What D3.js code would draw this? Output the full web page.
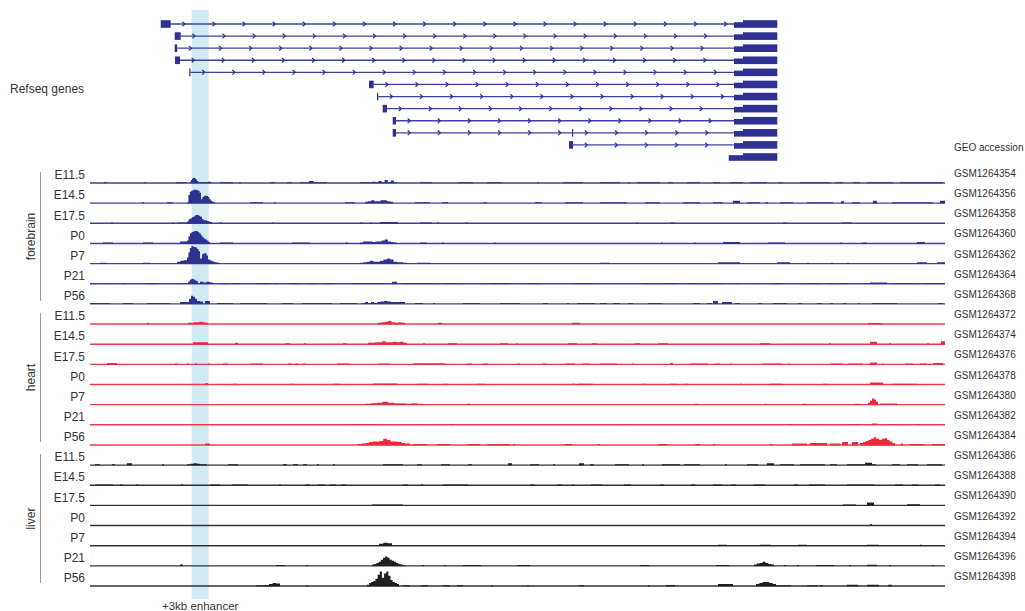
<!DOCTYPE html>
<html>
<head>
<meta charset="utf-8">
<script src="https://cdn.jsdelivr.net/npm/d3@7"></script>
<style>
  body { margin: 0; background: #fff; }
  text { font-family: Arial, "Liberation Sans", Helvetica, sans-serif; fill: #333; }
</style>
</head>
<body>
<div id="chart"></div>
<script>
// Genomic window in kb (0 = left end of the browser view)
var regionKb = [0, 85.5];
var enhancerKb = [10.17, 11.87];

var stages = ["E11.5", "E14.5", "E17.5", "P0", "P7", "P21", "P56"];
var tissues = ["forebrain", "heart", "liver"];
var tissueColors = ["#2e3192", "#ec2a3c", "#231f20"];
var baselineColors = ["#3d41a0", "#ee3a4a", "#333333"];
var accessions = [
  "GSM1264354", "GSM1264356", "GSM1264358", "GSM1264360", "GSM1264362", "GSM1264364", "GSM1264368",
  "GSM1264372", "GSM1264374", "GSM1264376", "GSM1264378", "GSM1264380", "GSM1264382", "GSM1264384",
  "GSM1264386", "GSM1264388", "GSM1264390", "GSM1264392", "GSM1264394", "GSM1264396", "GSM1264398"
];

// Refseq transcripts: exons as [startKb, endKb, type]
var transcripts = [
  [[7.07, 8.07, "cds"], [64.4, 65.3, "utr"], [65.3, 68.73, "cds"]],
  [[8.47, 9.07, "cds"], [64.4, 65.3, "utr"], [65.3, 68.73, "cds"]],
  [[8.47, 8.72, "cds"], [64.4, 65.3, "utr"], [65.3, 68.73, "cds"]],
  [[8.5, 9.0, "cds"], [64.4, 65.3, "utr"], [65.3, 68.73, "cds"]],
  [[9.93, 10.05, "cds"], [64.4, 65.3, "utr"], [65.3, 68.73, "cds"]],
  [[27.9, 28.37, "cds"], [64.4, 65.3, "utr"], [65.3, 68.73, "cds"]],
  [[28.7, 28.82, "cds"], [64.4, 65.3, "utr"], [65.3, 68.73, "cds"]],
  [[29.27, 29.7, "cds"], [64.4, 65.3, "utr"], [65.3, 68.73, "cds"]],
  [[30.27, 30.6, "cds"], [64.4, 65.3, "utr"], [65.3, 68.73, "cds"]],
  [[30.27, 30.6, "cds"], [48.2, 48.32, "cds"], [64.4, 65.3, "utr"], [65.3, 68.73, "cds"]],
  [[47.9, 48.3, "cds"], [64.4, 65.3, "utr"], [65.3, 68.73, "cds"]],
  [[63.87, 65.3, "utr"], [65.3, 68.73, "cds"]]
];

// Signal tracks, bedGraph style: [startKb, endKb, value or list of equal-width bin values]
var forebrainSignal = [
  [[1.4,1.7,1],[5.4,5.6,1],[8.6,9.7,1],[10.0,11.0,[1.5,3,4.5,5,5,4.5,3.5,2,1.5,1]],[11.0,11.8,1],[11.8,12.1,1.5],[13,14.3,1],[14.9,15.1,1],[18,18.5,1],[19.7,20.2,1],[21,23.7,[1,1,2,1,1,1]],[27,30.7,[1,1,1,1,1.5,1,2,1,3,1,2.5,1]],[33,34.2,1],[36.8,38.3,1],[39.7,41.2,1],[44.7,44.9,1],[47.3,49.3,1],[51,53,1],[53.8,54,1],[54.7,57,1],[57.8,58.3,1],[59.7,61,1],[62.3,63,1],[64,65.3,1],[66,67.7,1],[68.8,69.3,1],[71,74,1],[74.5,75.3,1],[76.3,77,1],[77.7,80.3,1],[81,85.3,1]],
  [[5.2,5.4,1],[7.7,8.3,1],[9.7,12.5,[1,8,11,12,12.5,13,13,12.5,12,10,4,6,7,7.5,7,6,4,2.5,1.5,1]],[16,17.3,1],[18.4,18.6,1],[25.5,26.5,1],[27.5,30.3,[1.5,2,3,2,2,3,3,2,1.5]],[32.5,34,1],[35.2,35.8,1],[39.3,39.7,1],[44.5,45.2,1],[47.5,49.3,1],[51,53.7,1],[55.5,57,1],[59.3,61,1],[62.3,63.3,1],[64.3,65,2.5],[65.7,67,1],[67.5,67.8,1],[69,70.3,1],[71.7,74.3,1],[75.1,75.4,2],[76.2,77,1],[78.3,78.7,2.5],[80.2,84.3,1],[85,85.5,2.5]],
  [[2.1,2.3,1],[8.2,8.4,1],[8.8,9.7,1],[9.7,12.2,[2,4,5,6,7,8,8,7.5,6.5,4,3,3,2.5,2,1.5]],[12.9,13.2,1],[18.2,18.4,1],[27,27.3,1],[28,28.2,1],[29,30.8,1.5],[33,34.2,1],[34.7,34.9,1],[37.5,37.8,1],[54.6,54.8,1],[58,58.5,1],[69.3,69.7,1],[75.2,76.2,1]],
  [[1.3,2.3,1],[5.3,6.3,1],[9.0,9.7,2],[9.7,12.0,[3,7,10,11,11.5,12,12,11,10,8,6,5,4,3,1.5]],[13,14.3,1],[20.2,22,1],[25.5,25.8,1],[27,30.7,[1,2,2,2,1.5,2,2,3,4,2,1.5,1]],[33,33.7,1],[35.2,35.4,1],[40.4,40.6,1],[57.1,57.3,1],[60.4,60.6,1],[63.3,65,1.5],[67.8,69.5,1],[75,75.2,1],[77.2,77.7,1],[82.7,83.5,1.5]],
  [[1,1.7,1],[5.3,6,1],[8.7,9.7,[2,3,3.5]],[9.7,11.0,[6,11,15,17,16.5,16,15.5,14,12]],[11.0,11.2,5],[11.2,11.8,[9,10,10,8]],[11.8,13.0,[4,3,2,1.5,1]],[27,31.7,[1,1.5,2,3,2,2,3,4,5,4,2,1.5,1.5,1]],[32.7,34,1],[51,52,1],[62.8,65,1.5],[68.7,70,1.5],[71.7,71.9,1],[74.1,74.3,1],[75.7,75.9,1],[82.7,83.7,1.5],[84.7,85.5,1.5]],
  [[1.6,1.8,1],[3.3,3.6,1],[5.7,6.7,1],[9.0,9.2,1],[9.8,10.8,[2,4,5,4.5,3.5,2.5]],[11,12.3,[2,1.5,2,1.5]],[13,13.7,1],[14.3,15,1],[16.7,18,1],[18.5,18.8,1],[20,21,1],[21.8,22.5,1],[23.5,24.3,1],[26.2,29.3,1],[30.2,30.7,2],[31.3,33.3,1],[33.5,34.2,1],[35.3,36.7,1],[40,42,1],[43.7,45,1],[48.3,50.3,1],[55.3,55.8,1],[57.3,58.7,1],[59.8,60.7,1],[62.2,63.2,1],[64.5,64.8,1],[66.7,66.9,1],[68.2,69.2,1],[71.7,73,1],[73.7,74.3,1],[75,75.8,1],[78,79.7,1.5],[80.3,82.3,1],[83.3,85.3,1]],
  [[0,2,1],[3.3,4.3,1],[5.7,8,1],[9,9.9,2],[9.9,10.7,[5,8,7,5]],[10.7,11.3,[3,2.5]],[11.5,12,3],[12.7,14.3,1],[15,17.7,1],[19.2,20.3,1],[21.2,24.2,1],[25,26.7,1],[27.2,28.7,[1,2,1,2,1]],[28.7,31.5,[2,2.5,3,2.5,2,2,2,2]],[32.5,33.3,1],[34.3,34.5,1],[37.3,39,1],[41,43,1],[45.3,45.8,1],[47.7,47.9,1],[48.7,50.5,1],[51,51.7,1],[52.3,53,1],[53.8,54.3,1],[55.8,57.2,1],[60.3,61,1],[61.7,62.2,1],[62.3,62.8,3],[63.2,64.2,2],[64.5,65,1],[66.8,67.2,1],[68.3,69.7,1],[70.8,71.2,1],[72.7,73.2,1],[74,74.3,1],[75.3,75.6,1],[76.8,77,1],[78.2,80.7,1],[84.8,85.3,1]]
];

var heartSignal = [
  [[5.7,5.9,1.5],[9.8,11.8,[1.5,1.5,2,2,2.5,2,1.5]],[28.8,31.5,[1.5,2,2.5,3,2,1.5,2,1.5]],[34.8,35.2,1.5],[48.2,49,1.5],[77.8,79.2,1.2]],
  [[10.3,11.8,2],[14.5,14.8,1.5],[19.5,20,1],[21.4,21.6,1],[25.3,25.7,1],[27.8,31.7,[1.5,1.5,2,2,3,2,2,2.5,2,2.5,1.5]],[33.3,33.5,1],[35.8,36.7,1],[41,41.8,1],[42.6,42.8,1],[47.8,48.7,1],[50.2,50.7,1],[54.5,55,1],[56.8,57.8,1],[67,68,1],[73.9,74.1,1],[78,78.7,2.5],[79.9,80.1,1],[83.7,83.9,1],[85.1,85.5,3]],
  [[1.7,2.7,1.5],[8.5,8.8,1],[9.7,9.9,1],[10.5,10.7,1],[11.8,12,1],[13.3,13.8,1],[16,17.3,1],[19.8,20.2,1],[20.5,20.8,1],[21.3,21.6,1],[24.7,26,1],[28.8,30,1],[32.3,35.5,1.3],[37.7,38.2,1],[39.3,39.8,1],[42.7,43,1],[45.2,45.7,1],[47.5,48.5,1],[49.2,50,1],[51,52.7,1],[54.2,54.4,1],[58,58.3,1.5],[60,61.8,1],[62.5,63,1],[64,64.2,1],[67.2,69.2,1],[69.8,70,1],[74,75.3,1],[75.8,77.3,1],[78,78.7,2],[79.2,79.4,1],[81.5,82.3,1],[83,83.7,1],[84.3,85.3,1.5]],
  [[11.5,11.8,1.5],[14.3,14.7,1],[20,20.3,1],[24.3,25,1],[28.3,30.7,1.2],[32.7,33.8,1],[35.3,35.8,1],[38.7,39.5,1],[48.2,48.5,1],[48.8,50.3,1],[55.2,55.5,1],[58,58.7,1],[59.5,59.8,1],[65,65.2,1],[68,69.2,1],[73.3,73.7,1],[78,79.3,2],[80.3,82.7,1]],
  [[27.5,33.3,[1,1.5,2,3,2,1.5,1.5,1,1.5,1]],[37.7,38,1],[60.5,60.8,1],[67.5,67.7,1],[71.2,71.7,1],[76.5,77,1],[77.8,78.8,[2,4,6,5,3]],[79,80.7,1.3]],
  [[26,28.7,0.8],[33.2,33.4,1],[36,36.5,1],[53.3,53.6,1],[69.8,70.2,1],[72.5,72.8,1],[75.7,77,1],[78.2,78.7,1.5],[80,80.7,1],[82.7,83,1]],
  [[11.5,12,1.5],[26.8,31.5,[1,1.5,2,3,3.5,3.5,4,6,5,3.5,3.5,3,2]],[31.5,32,1.5],[32.3,33.7,1.2],[34.7,36,1],[37.7,39,1],[39.7,42,1],[42.3,42.5,1],[47.5,48.2,1],[50.8,51,1],[56.8,57.7,1],[60.5,61,1],[62.3,62.5,1],[68,68.3,1],[70.2,71.7,1.5],[72,73.7,2],[74,75,1.5],[75.2,75.8,3],[76.2,76.8,3],[77,77.3,2],[77.3,80.5,[3,4,5,6,7.5,6,5,6,6.5,5,3.5,2]],[81.1,81.3,1.5],[82,83.5,1.2],[84.2,85.5,1.2]]
];

var liverSignal = [
  [[0.5,1,1],[2.2,2.5,1],[3.7,4.2,2],[7.2,7.4,1],[9.7,11.7,[1,1.5,2,1.5,1,1]],[13.8,14.8,1],[19.3,19.7,1],[20.3,20.8,1],[21.3,21.7,1],[22.7,22.9,1],[24.3,24.5,1],[29.3,31.3,1],[32.7,33.2,1],[35.1,36,1],[37.8,38.2,1],[41.8,42.2,2],[44,44.9,1],[46.3,46.5,1],[48.9,49.4,2],[50,50.4,1],[52.5,53.9,1],[55.2,55.4,1],[57.2,59,1],[59.4,61,1],[63.5,63.7,1],[65.7,66.8,1],[67.7,68.4,2],[69,70.4,1],[71,73.5,1],[74,74.7,1],[75.7,77.5,1],[77.5,78.2,2.5],[78.2,78.6,1],[80.2,81,1],[81.7,82.8,1],[83.7,85.2,1]],
  [[0.5,2.3,1],[3,3.3,1],[4.6,4.8,1],[9.1,9.3,1],[12,13,1],[14.2,15.8,1],[18.9,19.1,1],[21.5,22,1],[22.8,23.5,1],[24,24.6,1],[25.1,25.6,1],[31.3,31.8,1],[33.1,33.3,1],[35.3,37.8,1],[44,44.5,1],[46.7,47.2,1],[48.2,48.4,1],[50.1,51.2,1],[53.4,54.1,1],[57,57.4,1],[60.1,60.5,1],[62.3,63.2,1],[64.1,64.6,1],[66.4,67.5,1],[70.4,70.8,1],[71.9,73.5,1],[75.7,78.4,1],[80.5,81.3,1],[82.2,82.8,1],[84.5,85,1]],
  [[28.2,31.3,1],[75.3,76.6,1],[77.7,78.4,3],[81.7,83,1.2]],
  [[78,78.2,1.5]],
  [[28.9,30.2,[2,3,2.5]],[62.8,63.7,1],[67,68.1,1],[70.8,71.7,1],[77.7,78.9,1.2],[83,83.2,1]],
  [[9,9.3,1.5],[18.6,19.5,1],[21.6,21.8,1],[28.2,31.5,[1.5,2,3,4,6,8,9,8,6,5,4,3,2,1.5,1]],[33.2,33.4,1],[35.4,35.6,1],[37.3,39.1,1],[42.7,44,1],[55,55.9,1],[62.6,63.9,1],[66.4,68.4,[1.5,2.5,3,4,3,2,1.5]],[69.4,69.6,1],[70.7,70.9,1],[72.6,74.4,1],[75.9,76.1,1],[77.7,78.7,1.2],[79.9,80.1,1],[84.2,84.4,1]],
  [[16.6,17.9,1],[17.9,19,[2,3,2.5]],[21.6,21.8,1],[27.7,30.9,[1.5,3,4,5,7,11,14,8,12,14,10,6,4,3,2]],[31.3,32,1],[33.1,33.8,1],[35.3,36,1],[36.7,37.3,1],[40.1,40.3,1],[43.7,43.9,1],[48.9,49.4,1],[55.8,56,1],[57.6,58.5,1.2],[62.8,64.3,2],[66.6,68.6,[2,3,4,4,3,2]],[68.6,70.1,1],[71.7,72.8,1],[73,73.3,1],[75.7,76.8,1.5],[77.7,78.9,1.3],[79.8,80.2,1.5]]
];

var signalsByTissue = [forebrainSignal, heartSignal, liverSignal];

// Build the flat list of tracks
var tracks = [];
tissues.forEach(function(t, ti) {
  stages.forEach(function(s, si) {
    tracks.push({
      id: t + "_" + s,
      tissue: t,
      tissueIndex: ti,
      stage: s,
      accession: accessions[ti * stages.length + si],
      signal: signalsByTissue[ti][si]
    });
  });
});

// SVG area
var svgWidth = 1025;
var svgHeight = 611;

var svg = d3.select("#chart")
  .append("svg")
  .attr("width", svgWidth)
  .attr("height", svgHeight);

// Scales
var x = d3.scaleLinear().domain(regionKb).range([90, 945]);
var yTrack = d3.scalePoint().domain(tracks.map(d => d.id)).range([183, 586]);
var ySignal = d3.scaleLinear().domain([0, 20]).range([0, 21]);
var yGene = d3.scalePoint().domain(d3.range(transcripts.length)).range([24, 157]);

// Enhancer highlight band
svg.append("rect")
  .attr("x", x(enhancerKb[0]))
  .attr("y", 10)
  .attr("width", x(enhancerKb[1]) - x(enhancerKb[0]))
  .attr("height", 589)
  .attr("fill", "#d0ebf4");

svg.append("text")
  .attr("x", x(d3.mean(enhancerKb)))
  .attr("y", 610)
  .attr("text-anchor", "middle")
  .style("font-size", "11.5px")
  .text("+3kb enhancer");

// Refseq genes
svg.append("text")
  .attr("x", 10)
  .attr("y", 89)
  .attr("dy", "0.35em")
  .style("font-size", "12px")
  .text("Refseq genes");

var geneColor = "#2e3192";
var genes = svg.append("g").attr("class", "genes");

transcripts.forEach(function(exons, i) {
  var g = genes.append("g").attr("transform", `translate(0, ${yGene(i)})`);

  // introns with strand chevrons
  for (var k = 0; k < exons.length - 1; k++) {
    var a = exons[k][1], b = exons[k + 1][0];
    if (b - a <= 0) continue;
    g.append("line")
      .attr("x1", x(a)).attr("x2", x(b))
      .attr("y1", 0).attr("y2", 0)
      .attr("stroke", "#3c42a0")
      .attr("stroke-width", 1.3);
    var marks = d3.range(a + 1.3, b - 0.3, 3.01);
    g.selectAll(null)
      .data(marks)
      .enter()
      .append("path")
      .attr("d", d => `M${x(d) - 1.3},-2.3L${x(d) + 1.3},0L${x(d) - 1.3},2.3`)
      .attr("fill", "none")
      .attr("stroke", geneColor)
      .attr("stroke-width", 1.2);
  }

  g.selectAll("rect")
    .data(exons)
    .enter()
    .append("rect")
    .attr("x", d => x(d[0]))
    .attr("width", d => Math.max(1.2, x(d[1]) - x(d[0])))
    .attr("y", d => d[2] === "utr" ? -1.8 : -3.8)
    .attr("height", d => d[2] === "utr" ? 5.6 : 7.6)
    .attr("fill", geneColor);
});

svg.append("text")
  .attr("x", 954)
  .attr("y", 147)
  .attr("dy", "0.35em")
  .style("font-size", "10px")
  .text("GEO accession");

// Signal tracks
function toSteps(entries) {
  var pts = [];
  entries.slice().sort((p, q) => p[0] - q[0]).forEach(function(e) {
    var vals = Array.isArray(e[2]) ? e[2] : [e[2]];
    var w = (e[1] - e[0]) / vals.length;
    vals.forEach(function(v, i) {
      var s = e[0] + i * w, t = s + w;
      pts.push([s, 0], [s, v], [t, v], [t, 0]);
    });
  });
  return pts;
}

var area = d3.area()
  .x(d => x(d[0]))
  .y0(0)
  .y1(d => -ySignal(d[1]));

var trackGroups = svg.append("g")
  .attr("class", "tracks")
  .selectAll("g")
  .data(tracks)
  .enter()
  .append("g")
  .attr("transform", d => `translate(0, ${yTrack(d.id)})`);

trackGroups.append("line")
  .attr("x1", x(regionKb[0]))
  .attr("x2", x(regionKb[1]))
  .attr("y1", 0)
  .attr("y2", 0)
  .attr("stroke", d => baselineColors[d.tissueIndex])
  .attr("stroke-width", 1.4);

trackGroups.append("path")
  .attr("d", d => area(toSteps(d.signal)))
  .attr("transform", "translate(0, 0.2)")
  .attr("fill", d => tissueColors[d.tissueIndex]);

trackGroups.append("text")
  .attr("x", 85)
  .attr("y", -8)
  .attr("dy", "0.35em")
  .attr("text-anchor", "end")
  .style("font-size", "12px")
  .text(d => d.stage);

trackGroups.append("text")
  .attr("x", 954)
  .attr("y", -9.5)
  .attr("dy", "0.35em")
  .style("font-size", "10px")
  .text(d => d.accession);

// Tissue brackets and labels
tissues.forEach(function(t) {
  var first = yTrack(t + "_" + stages[0]);
  var last = yTrack(t + "_" + stages[stages.length - 1]);
  svg.append("line")
    .attr("x1", 40.5).attr("x2", 40.5)
    .attr("y1", first - 11).attr("y2", last - 3)
    .attr("stroke", "#999")
    .attr("stroke-width", 1);
  svg.append("text")
    .attr("transform", `translate(35, ${(first + last) / 2 - 7}) rotate(-90)`)
    .attr("text-anchor", "middle")
    .style("font-size", "12px")
    .text(t);
});
</script>
</body>
</html>
